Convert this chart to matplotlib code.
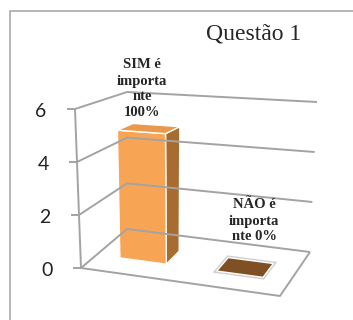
import matplotlib
matplotlib.use("Agg")
import matplotlib.pyplot as plt
from matplotlib.patches import Polygon

# dados do grafico
categorias = ["SIM é\nimporta\nnte\n100%", "NÃO é\nimporta\nnte 0%"]
valores = [5, 0]
ticks_y = [0, 2, 4, 6]
titulo = "Questão 1"

vmax = 6.0

# cantos da caixa 3d em pixels (frente/fundo, esquerda/direita, base/topo)
FLB = (81, 268); FLT = (75, 109)
BLB = (127, 229); BLT = (127, 92)
BRB = (310, 252); BRT = (317, 102)
FRB = (280, 296); FRT = (283, 122)


def lerp(a, b, t):
    return (a[0] + (b[0] - a[0]) * t, a[1] + (b[1] - a[1]) * t)


def proj(u, v, w):
    # u: esquerda->direita, v: valor, w: frente->fundo
    t = v / vmax
    fl = lerp(FLB, FLT, t)
    fr = lerp(FRB, FRT, t)
    bl = lerp(BLB, BLT, t)
    br = lerp(BRB, BRT, t)
    frente = lerp(fl, fr, u)
    fundo = lerp(bl, br, u)
    return lerp(frente, fundo, w)


fig = plt.figure(figsize=(3.53, 3.2), dpi=100)
ax = fig.add_axes([0, 0, 1, 1])
ax.set_xlim(0, 353)
ax.set_ylim(320, 0)
ax.axis("off")

# moldura externa
ax.plot([9.5, 9.5, 360], [330, 10.5, 10.5], color="#b0b0b0", lw=1.3)

cinza = "#a3a3a3"


def linha(pts, **kw):
    xs = [p[0] for p in pts]
    ys = [p[1] for p in pts]
    ax.plot(xs, ys, color=cinza, lw=1.4, solid_capstyle="butt", **kw)


# grades (parede esquerda e fundo)
for v in ticks_y:
    linha([proj(0, v, 0), proj(0, v, 1), proj(1, v, 1)])
    p = proj(0, v, 0)
    linha([(p[0] - 8, p[1]), p])
    ax.text(p[0] - 34, p[1] + 2.5, str(v), fontsize=14, family="Lato",
            color="#222222", ha="center", va="center")

# eixo vertical e piso
linha([proj(0, 0, 0), proj(0, vmax, 0)])
linha([proj(0, 0, 0), proj(1, 0, 0), proj(1, 0, 1)])

# barras
n = len(valores)
largura = 0.24
w0, w1 = 0.34, 0.66
frente_cor = "#f7a555"
lado_cor = "#a86c30"
topo_cor = "#e9994c"
for i, h in enumerate(valores):
    uc = (i + 0.5) / n - 0.01
    u0, u1 = uc - largura / 2, uc + largura / 2
    if h > 0:
        lado = [proj(u1, 0, w0), proj(u1, 0, w1), proj(u1, h, w1), proj(u1, h, w0)]
        frente = [proj(u0, 0, w0), proj(u1, 0, w0), proj(u1, h, w0), proj(u0, h, w0)]
        topo = [proj(u0, h, w0), proj(u1, h, w0), proj(u1, h, w1), proj(u0, h, w1)]
        ax.add_patch(Polygon(lado, closed=True, fc=lado_cor, ec="white", lw=1.0))
        ax.add_patch(Polygon(frente, closed=True, fc=frente_cor, ec="white", lw=1.0))
        ax.add_patch(Polygon(topo, closed=True, fc=topo_cor, ec="white", lw=1.0))
    else:
        topo = [proj(u0, h, w0), proj(u1, h, w0), proj(u1, h, w1), proj(u0, h, w1)]
        ax.add_patch(Polygon(topo, closed=True, fc="none", ec="#d0d0d0", lw=3.0))
        ax.add_patch(Polygon(topo, closed=True, fc="#7f5023", ec="white", lw=1.0))

# rotulos de dados
pos_rotulos = [(142, 89), (254, 221)]
for txt, (x, y) in zip(categorias, pos_rotulos):
    ax.text(x, y, txt, fontsize=10.5, family="Liberation Serif", weight="bold",
            color="#262626", ha="center", va="center", linespacing=1.3)

ax.text(254, 34, titulo, fontsize=17, family="Liberation Serif",
        color="#262626", ha="center", va="center")

fig.savefig("out.png", dpi=100)
